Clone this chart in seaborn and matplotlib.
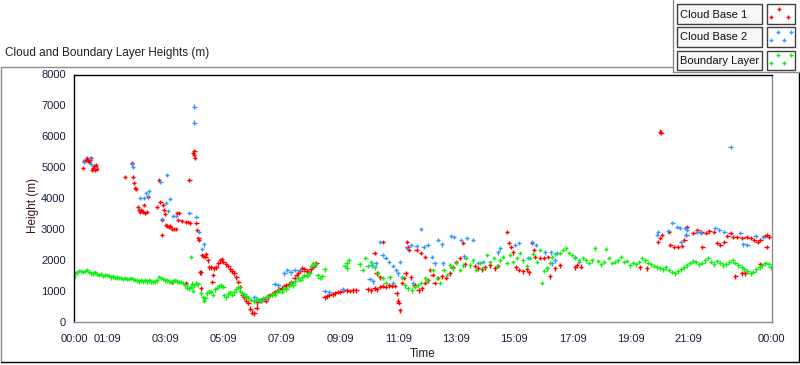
import numpy as np
import pandas as pd
import matplotlib.pyplot as plt
import seaborn as sns
from matplotlib.lines import Line2D
from matplotlib.patches import Rectangle

# -----------------------------
# Data (time in hours, height in m)
# -----------------------------

red_t = [0.31, 0.36, 0.40, 0.45, 0.48, 0.52, 0.55, 0.59, 0.62, 0.66, 0.69, 0.72, 0.76, 0.79,
         1.76, 2.00, 2.03, 2.07, 2.10, 2.14, 2.21, 2.24, 2.28, 2.31, 2.34, 2.38, 2.41, 2.45, 2.52, 2.55,
         2.86, 2.93, 2.97, 3.03, 3.03, 3.07, 3.10, 3.14, 3.17, 3.21, 3.28, 3.31, 3.38, 3.45, 3.52,
         3.55, 3.62, 3.59, 3.72, 3.86, 3.93, 4.00, 3.97, 4.10, 4.14, 4.12, 4.17, 4.21, 4.24, 4.28,
         4.31, 4.34, 4.38, 4.41, 4.45, 4.52, 4.55, 4.62, 4.66, 4.72, 4.79, 4.76, 4.83, 4.90, 4.97,
         5.03, 5.10, 5.14, 5.24, 5.31, 5.38, 5.45, 5.52, 5.59, 5.66, 5.72, 5.79, 5.86, 5.93, 6.00,
         6.07, 6.14, 6.21, 3.38, 3.86, 4.38,
         6.28, 6.31, 6.38, 6.45, 6.52, 6.59, 6.66, 6.72, 6.83, 6.90, 6.97, 7.07, 7.14, 7.24, 7.31,
         7.41, 7.48, 7.59, 7.66, 7.72, 7.79, 7.86, 7.93, 8.00, 8.07, 8.14, 8.21, 8.28, 8.34,
         8.62, 8.69, 8.79, 8.90, 8.97, 9.07, 9.14, 9.24, 9.38, 9.48, 9.59, 9.72, 10.10, 10.21,
         10.34, 10.41, 10.52, 10.62, 10.72, 10.83, 10.93, 11.03, 11.10, 11.14, 11.17, 11.21,
         10.34, 10.41, 10.52, 10.62,
         11.28, 11.34, 11.41, 11.45, 11.48, 11.52, 11.59, 11.72, 11.86, 11.97, 12.07, 12.17,
         11.79, 11.93, 12.07, 12.24, 12.34, 12.41, 12.52, 12.66, 12.79, 12.93, 13.03, 13.14,
         13.28, 13.38, 13.45,
         13.79, 13.90, 14.03, 14.14, 14.31, 14.48, 14.59, 14.90, 14.97, 15.03, 15.10, 15.21,
         15.31, 15.45, 15.59, 15.66, 15.76, 15.83, 15.86, 16.03, 16.17, 16.31, 16.55, 16.72,
         16.38, 17.24, 17.31, 17.45,
         19.48, 19.72, 20.10, 20.17, 20.24, 20.17, 20.21, 20.48, 20.52, 20.66, 20.79, 20.93,
         21.00, 21.07, 21.10, 21.31, 21.45, 21.59, 21.62, 21.76, 21.86, 22.03, 22.14, 22.24,
         22.38, 22.48, 22.59, 22.69, 22.83, 23.00, 23.14, 23.28, 23.41, 23.52, 23.62, 23.76,
         23.86, 23.93, 23.83, 22.76, 23.00, 23.10, 23.62]
red_h = [4980, 5200, 5240, 5300, 5240, 5170, 5240, 5300, 4910, 4980, 5040, 4910, 5070, 4950,
         4680, 5140, 4680, 4490, 4330, 4300, 3710, 3610, 3550, 3610, 3580, 3550, 3770, 3510, 3540, 4030,
         3710, 4590, 3870, 2800, 3280, 3770, 3610, 3480, 3120, 3090, 3060, 3090, 2990, 2990, 2990,
         3510, 3510, 3280, 3250, 3220, 3220, 3190, 4590, 5460, 5530, 5400, 5300, 3190, 2960, 2700,
         2630, 1590, 1590, 2150, 2120, 2090, 2180, 1980, 1750, 1750, 1500, 1270, 1720, 1750, 1880,
         1980, 2010, 1920, 1850, 1790, 1690, 1620, 1560, 1430, 1270, 1110, 850, 780, 680, 590,
         420, 290, 260, 1270, 1240, 1070,
         450, 620, 700, 680, 720, 680, 780, 850, 880, 950, 980, 1040, 1070, 1140, 1170,
         1210, 1270, 1400, 1500, 1560, 1630, 1720, 1690, 1620, 1590, 1690, 1780, 1850, 1880,
         780, 810, 850, 880, 910, 950, 950, 980, 1010, 980, 1010, 1010, 1040, 1010,
         1070, 1040, 1110, 1140, 1110, 1170, 1140, 1140, 910, 680, 590, 360,
         2210, 1560, 1430, 2570,
         1240, 1400, 1560, 2570, 2410, 2310, 1430, 1170, 1010, 1070, 1240, 1330,
         2310, 2210, 2080, 1660, 1500, 1240, 1400, 1460, 1400, 1560, 1750, 1920,
         2050, 2540, 1850,
         1790, 1720, 1690, 1750, 1820, 1720, 1790, 2890, 2540, 2410, 2240, 1750,
         1660, 1620, 1690, 1590, 2540, 2310, 2080, 2050, 2050, 2080, 1720, 1820,
         1460, 1750, 1820, 1780,
         1750, 1720, 2570, 2700, 2800, 6150, 6120, 2890, 2470, 2410, 2410, 2440,
         2630, 2800, 3060, 2860, 2960, 2890, 2410, 2860, 2930, 2890, 2540, 2470,
         2570, 2760, 2860, 2730, 2730, 2700, 2730, 2700, 2630, 2570, 2630, 2760,
         2800, 2730, 2410, 1460, 1560, 1560, 1850]

blue_t = [0.34, 0.55, 0.59, 2.03, 2.00, 2.28, 2.41, 2.48, 2.55, 2.59, 2.97, 3.03, 3.21, 3.17,
          3.24, 3.31, 3.41, 3.52, 3.97, 4.14, 4.14, 4.21, 4.31, 4.41, 4.48,
          6.21, 6.31, 6.45, 6.90, 7.03, 7.24, 7.34, 7.45, 7.59, 7.76,
          8.62, 8.79, 9.24, 10.17, 10.28, 10.24, 10.38, 10.52, 10.62, 10.72, 10.83, 10.97,
          11.07, 11.14, 11.21, 10.97, 11.45, 11.59, 11.66, 11.79, 11.93, 12.03, 12.17, 12.31,
          12.41, 12.52, 12.66, 12.69, 12.97, 13.07, 13.31, 13.41, 13.52, 13.72, 13.90, 14.07,
          14.66, 14.59, 15.17, 15.31, 15.62, 15.76, 15.90, 16.21, 16.28, 16.41, 16.62, 16.55,
          16.45, 17.24, 17.38,
          20.07, 20.10, 20.45, 20.59, 20.76, 20.86, 21.03, 21.10, 20.90, 21.07, 21.45, 21.59,
          22.07, 22.21, 22.38, 22.93, 23.03, 23.17, 23.45, 23.72, 22.59]
blue_h = [5170, 5300, 5100, 5010, 5100, 4000, 4000, 4160, 4070, 4230, 4520, 3320, 4750, 3840,
          3580, 3970, 3420, 3420, 3510, 6960, 6440, 3380, 2890, 2340, 2500,
          780, 710, 680, 1210, 1170, 1560, 1660, 1590, 1660, 1660,
          980, 950, 1040, 1370, 1300, 1820, 1880, 2570, 2150, 2050, 1920, 1790,
          1660, 1560, 1920, 1240, 2380, 2470, 1240, 2440, 2990, 2410, 2470, 2080,
          1880, 2630, 2500, 1880, 2760, 2730, 2630, 2110, 2700, 2630, 1890, 1920,
          2370, 2240, 2470, 2540, 2050, 2570, 2470, 2240, 1720, 2240, 2210, 1980,
          1880, 2080, 1920,
          2800, 2890, 2930, 3190, 3060, 3020, 3020, 2960, 2570, 2800, 2890, 2860,
          3020, 2960, 2890, 2860, 2500, 2470, 2760, 2730, 5660]

green_t = [0.00, 0.03, 0.10, 0.17, 0.24, 0.31, 0.38, 0.45, 0.52, 0.59, 0.66, 0.72, 0.79, 0.86,
           0.93, 1.00, 1.07, 1.14, 1.21, 1.28, 1.34, 1.41, 1.48, 1.55, 1.62, 1.69, 1.76, 1.83,
           1.90, 1.97, 2.03, 2.10, 2.17, 2.24, 2.31, 2.38, 2.45, 2.52, 2.59, 2.66, 2.72, 2.79,
           2.86, 2.93, 3.00, 3.07, 3.14, 3.21, 3.28, 3.34, 3.41, 3.48, 3.55, 3.62, 3.69, 3.76,
           3.83, 3.90, 3.97, 4.03, 4.07, 4.03, 4.10, 4.14, 4.21, 4.28, 4.38, 4.45, 4.48, 4.52,
           4.59, 4.66, 4.72, 4.79, 4.86, 4.93, 5.00, 5.07, 5.14, 5.17, 5.24, 5.31, 5.38, 5.45,
           5.52, 5.59, 5.66, 5.72, 5.79, 5.86,
           5.93, 6.00, 6.10, 6.21, 6.31, 6.41, 6.52, 6.62, 6.72, 6.83, 6.90, 6.97, 7.07, 7.14,
           7.24, 7.31, 7.41, 7.48, 7.55, 7.62, 7.72, 7.79, 7.86, 7.93, 8.00, 8.07, 8.10, 8.17,
           8.24, 8.31, 8.38, 8.45, 8.55, 8.62,
           9.31, 9.38, 9.45, 9.41,
           9.83, 9.93, 10.03, 10.10, 10.21, 10.34, 10.45, 10.62, 10.72, 10.86,
           11.28, 11.38, 11.48, 11.62, 11.72, 11.83, 11.93, 12.07, 12.14,
           12.34, 12.48, 12.59, 12.72, 12.83, 12.93, 13.03, 13.14, 13.28, 13.38, 13.48,
           13.62, 13.72, 13.83, 13.97, 14.07, 14.21, 14.31, 14.45, 14.55, 14.66, 14.76, 14.90,
           15.00, 15.10, 15.24, 15.34, 15.45, 15.59, 15.69, 15.79, 15.93, 16.03, 16.10, 16.17,
           16.28, 16.38,
           16.45, 16.55, 16.72, 16.83, 16.93, 17.03, 17.14, 17.24, 17.38, 17.52, 17.62, 17.72,
           17.83, 17.93, 18.03, 18.14, 18.24, 18.31, 18.41, 18.52, 18.62, 18.72, 18.83, 18.93,
           19.03, 19.14, 19.24, 19.34, 19.45, 19.55, 19.66, 19.76,
           19.86, 19.97, 20.07, 20.17, 20.28, 20.38, 20.48, 20.59, 20.69, 20.79, 20.90, 21.00,
           21.10, 21.21, 21.31, 21.41, 21.52, 21.62, 21.72, 21.83, 21.93, 22.03, 22.14, 22.24,
           22.34, 22.45, 22.55, 22.66, 22.76, 22.86, 22.97, 23.07, 23.17, 23.28, 23.38, 23.48,
           23.59, 23.69, 23.79, 23.90, 23.97]
green_h = [1430, 1560, 1590, 1630, 1630, 1600, 1630, 1660, 1600, 1560, 1560, 1590, 1530, 1500,
           1530, 1470, 1500, 1500, 1470, 1430, 1460, 1400, 1430, 1400, 1400, 1370, 1400, 1370,
           1370, 1400, 1370, 1340, 1330, 1300, 1330, 1300, 1330, 1300, 1330, 1300, 1270, 1300,
           1330, 1440, 1400, 1370, 1330, 1330, 1300, 1270, 1300, 1330, 1300, 1270, 1270, 1240,
           1170, 1100, 1070, 1130, 1230, 2080, 1000, 1170, 1240, 1200, 910, 780, 680, 750,
           910, 980, 950, 850, 1040, 1100, 1140, 1170, 1110, 850, 780, 880, 950, 850,
           940, 1040, 1110, 1000, 910, 880,
           820, 750, 700, 650, 720, 680, 750, 780, 820, 880, 850, 950, 1010, 950,
           1070, 1040, 1140, 1240, 1170, 1300, 1400, 1340, 1430, 1500, 1470, 1560, 1560, 1790,
           1880, 1850, 1500, 1400, 1460, 1690,
           1790, 1880, 1980, 1720,
           1850, 1660, 2050, 1790, 1920, 1750, 1560, 1400, 1240, 1430,
           1430, 1170, 1070, 1010, 1110, 1170, 1240, 1400, 1330,
           1660, 1400, 1240, 1660, 1500, 1820, 1720, 1890, 1660, 1820, 2050,
           1820, 1980, 1660, 1890, 1720, 2150, 1920, 2050, 1790, 1980, 2080, 1890,
           2150, 1920, 2050, 2210, 1980, 1790, 2050, 2180, 1920, 2310, 1240, 1630,
           1720, 1890,
           2080, 2180, 2210, 2310, 2370, 2210, 2150, 2050, 1980, 2050, 1980, 1890,
           1980, 2370, 1950, 1850, 1920, 2340, 2050, 1890, 1920, 1980, 2080, 1920,
           1950, 1820, 1890, 1850, 1920, 2050, 1980, 1890,
           1850, 1790, 1750, 1720, 1690, 1750, 1660, 1600, 1560, 1620, 1690, 1750,
           1820, 1890, 1950, 1920, 1850, 1890, 1980, 2050, 1920, 1850, 1950, 1890,
           1820, 1850, 1920, 1980, 1890, 1820, 1750, 1690, 1620, 1560, 1600, 1690,
           1750, 1820, 1890, 1850, 1750]

series_names = ["Cloud Base 1", "Cloud Base 2", "Boundary Layer"]
series_colors = ["#ff0000", "#3399ff", "#11ee11"]

x_tick_pos = [0, 1.15, 3.15, 5.15, 7.15, 9.15, 11.15, 13.15, 15.15, 17.15, 19.15, 21.15, 24]
x_tick_labels = ["00:00", "01:09", "03:09", "05:09", "07:09", "09:09", "11:09",
                 "13:09", "15:09", "17:09", "19:09", "21:09", "00:00"]
y_ticks = [0, 1000, 2000, 3000, 4000, 5000, 6000, 7000, 8000]

df = pd.concat([
    pd.DataFrame({"t": red_t, "h": red_h, "series": series_names[0]}),
    pd.DataFrame({"t": blue_t, "h": blue_h, "series": series_names[1]}),
    pd.DataFrame({"t": green_t, "h": green_h, "series": series_names[2]}),
], ignore_index=True)

# -----------------------------
# Figure
# -----------------------------

sns.set_style("white")
plt.rcParams["font.family"] = ["Liberation Sans", "DejaVu Sans"]

W, H = 800, 365
fig = plt.figure(figsize=(W / 100, H / 100), dpi=100)
fig.patch.set_facecolor("white")


def fx(x):
    return x / W


def fy(y):
    return 1 - y / H


ax = fig.add_axes([fx(74), fy(321.5), (771.5 - 74) / W, (321.5 - 74.5) / H])

sns.scatterplot(data=df, x="t", y="h", hue="series", hue_order=series_names,
                palette=series_colors, marker="+", s=10, linewidth=1.0,
                legend=False, ax=ax)

ax.set_xlim(0, 24)
ax.set_ylim(0, 8000)
ax.set_xticks(x_tick_pos)
ax.set_xticklabels(x_tick_labels)
ax.set_xticks(np.arange(1.15 - 5 * 2 / 9, 24.01, 2 / 9), minor=True)
ax.set_yticks(y_ticks)

lab_col = "#1c1c40"
ax.tick_params(axis="y", direction="out", length=5, width=1, color="black",
               pad=1, labelsize=8, labelcolor=lab_col)
ax.tick_params(axis="x", which="major", direction="out", length=6, width=1,
               color="#202020", pad=3, labelsize=8, labelcolor=lab_col)
ax.tick_params(axis="x", which="minor", direction="out", length=3, width=1,
               color="#202020")

ax.set_xlabel("Time", fontsize=8.5, color="#202020")
ax.set_ylabel("Height (m)", fontsize=8.5, color="#3c1428")
ax.xaxis.set_label_coords(0.5, -0.108)
ax.yaxis.set_label_coords(-0.05, 0.47)

for side, col in [("left", "black"), ("top", "black"),
                  ("right", "#8c8c8c"), ("bottom", "#8c8c8c")]:
    ax.spines[side].set_color(col)
    ax.spines[side].set_linewidth(1.0)

# title
fig.text(fx(5), fy(53), "Cloud and Boundary Layer Heights (m)", fontsize=8.5,
         color="#202020", ha="left", va="center")


# outer frame
def hline(y, x0, x1, col):
    fig.add_artist(Line2D([fx(x0), fx(x1)], [fy(y), fy(y)], color=col, lw=1.0))


def vline(x, y0, y1, col):
    fig.add_artist(Line2D([fx(x), fx(x)], [fy(y0), fy(y1)], color=col, lw=1.0))


hline(66.5, 0.5, 673, "#8c8c8c")
vline(1, 66.5, 362, "#8c8c8c")
hline(362, 0.5, 800, "#000000")
vline(799, 71.5, 362, "#000000")

# legend
vline(673, 0, 71.5, "#8c8c8c")
hline(71.5, 673, 800, "#8c8c8c")
marker_spots = [[(0.4, 0.1), (0.05, 0.75), (0.8, 0.75)],
                [(0.35, 0.1), (0.95, 0.1), (0.05, 0.75), (0.65, 0.75)],
                [(0.35, 0.1), (0.95, 0.1), (0.05, 0.75), (0.65, 0.75)]]
for i, (name, col) in enumerate(zip(series_names, series_colors)):
    top = 4.5 + 23 * i
    fig.add_artist(Rectangle((fx(677), fy(top + 19)), 85 / W, 19 / H,
                             transform=fig.transFigure, facecolor="#f7f7f7",
                             edgecolor="#404040", lw=1.0))
    fig.add_artist(Rectangle((fx(767), fy(top + 19)), 28 / W, 19 / H,
                             transform=fig.transFigure, facecolor="white",
                             edgecolor="#404040", lw=1.0))
    fig.text(fx(680), fy(top + 10), name, fontsize=8.0, color="#101010",
             ha="left", va="center")
    for (mx, my) in marker_spots[i]:
        fig.add_artist(Line2D([fx(767 + 3 + mx * 22)], [fy(top + 3 + my * 13)],
                              marker="+", ms=3, mew=1, color=col, linestyle="none"))

plt.savefig("out.png", dpi=100)
